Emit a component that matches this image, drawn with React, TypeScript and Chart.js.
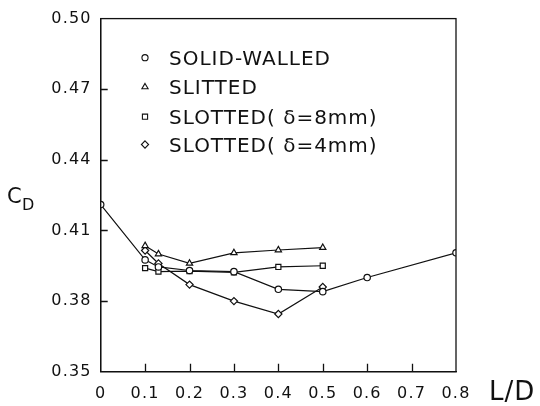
import React, { useEffect, useRef } from 'react';
import { Chart, registerables } from 'chart.js';

Chart.register(...registerables);

// ---- data ----
const X_SOLID = [0, 0.1, 0.13, 0.2, 0.3, 0.4, 0.5, 0.6, 0.8];
const Y_SOLID = [0.421, 0.3975, 0.3945, 0.393, 0.3925, 0.385, 0.384, 0.39, 0.4005];

const X_SLIT = [0.1, 0.13, 0.2, 0.3, 0.4, 0.5];
const Y_SLIT = [0.4035, 0.4, 0.396, 0.4005, 0.4017, 0.4027];

const X_SLOT8 = [0.1, 0.13, 0.2, 0.3, 0.4, 0.5];
const Y_SLOT8 = [0.394, 0.3925, 0.3927, 0.3922, 0.3945, 0.395];

const X_SLOT4 = [0.1, 0.13, 0.2, 0.3, 0.4, 0.5];
const Y_SLOT4 = [0.4015, 0.396, 0.387, 0.38, 0.3745, 0.386];

const LABELS = ['SOLID-WALLED', 'SLITTED', 'SLOTTED( δ=8mm)', 'SLOTTED( δ=4mm)'];
const STYLES = ['circle', 'triangle', 'rect', 'rectRot'];

const Y_MIN = 0.35;
const Y_MAX = 0.5;
const Y_STEP = 0.03;
const X_MIN = 0;
const X_MAX = 0.8;
const X_STEP = 0.1;

const INK = '#111';
const FONT = '"DejaVu Sans", sans-serif';

function drawMarker(ctx: CanvasRenderingContext2D, style: string, x: number, y: number, r: number) {
  ctx.beginPath();
  if (style === 'circle') {
    ctx.arc(x, y, r * 0.85, 0, Math.PI * 2);
  } else if (style === 'triangle') {
    ctx.moveTo(x, y - r);
    ctx.lineTo(x + r * 0.866, y + r * 0.5);
    ctx.lineTo(x - r * 0.866, y + r * 0.5);
    ctx.closePath();
  } else if (style === 'rect') {
    const s = r * 0.72;
    ctx.rect(x - s, y - s, 2 * s, 2 * s);
  } else {
    ctx.moveTo(x, y - r);
    ctx.lineTo(x + r, y);
    ctx.lineTo(x, y + r);
    ctx.lineTo(x - r, y);
    ctx.closePath();
  }
  ctx.fillStyle = '#fff';
  ctx.fill();
  ctx.stroke();
}

export default function App() {
  const ref = useRef<HTMLCanvasElement>(null);

  useEffect(() => {
    document.body.style.margin = '0';
    const canvas = ref.current;
    if (!canvas) return;

    const pts = (xs: number[], ys: number[]) => xs.map((x, i) => ({ x, y: ys[i] }));
    const mk = (i: number, xs: number[], ys: number[]) => ({
      label: LABELS[i],
      data: pts(xs, ys),
      showLine: true,
      borderColor: INK,
      borderWidth: 1.2,
      pointStyle: STYLES[i],
      pointRadius: STYLES[i] === 'circle' ? 3.2 : 3.6,
      pointBorderWidth: 1.2,
      pointBackgroundColor: '#fff',
      pointBorderColor: INK,
      fill: false,
      tension: 0,
    });

    const decor = {
      id: 'decor',
      beforeDraw(chart: any) {
        (chart.ctx as any).letterSpacing = '1.2px';
      },
      afterDatasetsDraw(chart: any) {
        const { ctx, chartArea } = chart;
        const xs = chart.scales.x;
        const ys = chart.scales.y;
        ctx.save();
        ctx.strokeStyle = INK;
        ctx.lineWidth = 1.3;
        ctx.strokeRect(chartArea.left, chartArea.top, chartArea.right - chartArea.left, chartArea.bottom - chartArea.top);
        // inward ticks
        ctx.beginPath();
        ys.ticks.forEach((t: any) => {
          if (t.value <= Y_MIN + 1e-6 || t.value >= Y_MAX - 1e-6) return;
          const py = Math.round(ys.getPixelForValue(t.value)) + 0.5;
          ctx.moveTo(chartArea.left, py);
          ctx.lineTo(chartArea.left + 7, py);
        });
        xs.ticks.forEach((t: any) => {
          if (t.value <= X_MIN + 1e-6 || t.value >= X_MAX - 1e-6) return;
          const px = Math.round(xs.getPixelForValue(t.value)) + 0.5;
          ctx.moveTo(px, chartArea.bottom);
          ctx.lineTo(px, chartArea.bottom - 8);
        });
        ctx.stroke();

        // legend
        const rows = [65, 94.3, 124, 151.8];
        ctx.fillStyle = INK;
        ctx.font = `20px ${FONT}`;
        ctx.letterSpacing = '1px';
        ctx.textBaseline = 'alphabetic';
        ctx.textAlign = 'left';
        chart.data.datasets.forEach((d: any, i: number) => {
          ctx.fillStyle = INK;
          ctx.fillText(d.label, 169, rows[i]);
          ctx.lineWidth = 1.1;
          drawMarker(ctx, STYLES[i], 145, rows[i] - 7.3, 3.6);
        });

        // axis titles
        ctx.letterSpacing = '0px';
        ctx.fillStyle = INK;
        ctx.font = `21px ${FONT}`;
        ctx.fillText('C', 7, 203);
        ctx.font = `16px ${FONT}`;
        ctx.fillText('D', 22, 210);
        ctx.font = `26px ${FONT}`;
        ctx.letterSpacing = '1px';
        ctx.fillText('L/D', 489, 400);
        ctx.restore();
      },
      afterDraw(chart: any) {
        (chart.ctx as any).letterSpacing = '0px';
      },
    };

    const chart = new Chart(canvas, {
      type: 'scatter',
      data: {
        datasets: [
          mk(0, X_SOLID, Y_SOLID),
          mk(1, X_SLIT, Y_SLIT),
          mk(2, X_SLOT8, Y_SLOT8),
          mk(3, X_SLOT4, Y_SLOT4),
        ],
      },
      options: {
        responsive: false,
        maintainAspectRatio: false,
        devicePixelRatio: 1,
        animation: false,
        layout: { padding: { left: 0, right: 84, top: 15.7, bottom: 0 } },
        plugins: {
          legend: { display: false },
          tooltip: { enabled: false },
          title: { display: false },
        },
        scales: {
          x: {
            type: 'linear',
            min: X_MIN,
            max: X_MAX,
            grid: { display: false, drawTicks: false },
            border: { display: true, color: INK, width: 1.3 },
            afterFit: (s: any) => {
              s.height = 406 - 371.7;
            },
            ticks: {
              stepSize: X_STEP,
              padding: 13,
              color: INK,
              font: { family: FONT, size: 16 },
              maxRotation: 0,
              autoSkip: false,
              callback: (v: any) => (Number(v) === 0 ? '0' : Number(v).toFixed(1)),
            },
          },
          y: {
            type: 'linear',
            min: Y_MIN,
            max: Y_MAX,
            grid: { display: false, drawTicks: false },
            border: { display: true, color: INK, width: 1.3 },
            afterFit: (s: any) => {
              s.width = 100.7;
            },
            ticks: {
              stepSize: Y_STEP,
              padding: 9,
              color: INK,
              font: { family: FONT, size: 16 },
              autoSkip: false,
              callback: (v: any) => Number(v).toFixed(2),
            },
          },
        },
      },
      plugins: [decor],
    });

    return () => chart.destroy();
  }, []);

  return (
    <div style={{ width: 540, height: 406 }}>
      <canvas ref={ref} width={540} height={406} style={{ display: 'block', width: 540, height: 406 }} />
    </div>
  );
}
